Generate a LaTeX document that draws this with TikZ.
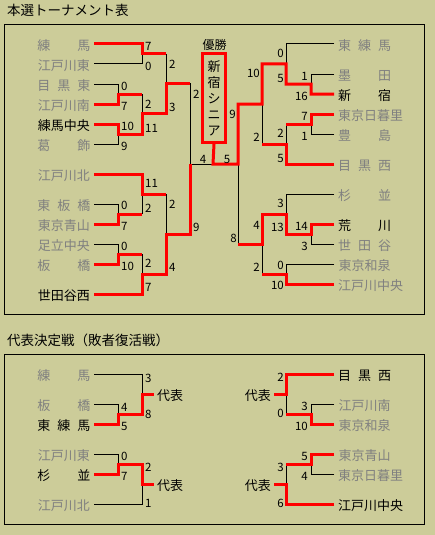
\documentclass[tikz,border=0pt]{standalone}
\usepackage{fontspec}
\setmainfont{Noto Sans CJK JP}
\definecolor{bg}{RGB}{204,204,153}
\definecolor{ng}{RGB}{128,128,128}
\newcommand\fsz[1]{\fontsize{#1}{#1}\selectfont}
\newcommand\nb[1]{\makebox[53pt]{#1}}
\begin{document}
\begin{tikzpicture}[x=1pt,y=-1pt,
  lose/.style={draw=black,line width=1pt},
  win/.style={draw=red,line width=3pt,line join=miter},
  nm/.style={inner sep=0pt,font=\fsz{13},text height=11pt,text depth=2pt},
  nmL/.style={nm,anchor=east},
  nmR/.style={nm,anchor=west},
  gr/.style={text=ng},
  sc/.style={inner sep=0pt,font=\fsz{11.5},text height=8.4pt,text depth=0pt},
  scL/.style={sc,anchor=west},
  scR/.style={sc,anchor=east},
  dai/.style={inner ysep=0pt,inner xsep=3pt,font=\fsz{13},text height=11pt,text depth=2pt},
  ttl/.style={anchor=west,inner sep=0pt,font=\fsz{13.5},text height=11.5pt,text depth=2pt}]
\fill[bg] (0,0) rectangle (435,535);
\useasboundingbox (0,0) rectangle (435,535);

% titles and frames
\node[ttl] (title1) at (7,10.5) {本選トーナメント表};
\node[ttl] (title2) at (7,340.5) {代表決定戦（敗者復活戦）};
\draw[line width=1pt] (4.5,24.5) rectangle (424,314.5);
\draw[line width=1pt] (4.5,354.5) rectangle (424,524);

% ---------- main bracket: left names ----------
\node[nmL,gr] (n1) at (90.5,46) {\nb{練\hfill 馬}};
\node[nmL,gr] (n2) at (90.5,66) {\nb{江戸川東}};
\node[nmL,gr] (n3) at (90.5,86) {\nb{目\hfill 黒\hfill 東}};
\node[nmL,gr] (n4) at (90.5,106) {\nb{江戸川南}};
\node[nmL] (n5) at (90.5,126) {\nb{練馬中央}};
\node[nmL,gr] (n6) at (90.5,146) {\nb{葛\hfill 飾}};
\node[nmL,gr] (n7) at (90.5,176) {\nb{江戸川北}};
\node[nmL,gr] (n8) at (90.5,206) {\nb{東\hfill 板\hfill 橋}};
\node[nmL,gr] (n9) at (90.5,226) {\nb{東京青山}};
\node[nmL,gr] (n10) at (90.5,246) {\nb{足立中央}};
\node[nmL,gr] (n11) at (90.5,266) {\nb{板\hfill 橋}};
\node[nmL] (n12) at (90.5,296) {\nb{世田谷西}};

% right names
\node[nmR,gr] (m1) at (338,46) {\nb{東\hfill 練\hfill 馬}};
\node[nmR,gr] (m2) at (338,76) {\nb{墨\hfill 田}};
\node[nmR] (m3) at (338,96) {\nb{新\hfill 宿}};
\node[nmR,gr] (m4) at (338,116) {東京日暮里};
\node[nmR,gr] (m5) at (338,136) {\nb{豊\hfill 島}};
\node[nmR,gr] (m6) at (338,166) {\nb{目\hfill 黒\hfill 西}};
\node[nmR,gr] (m7) at (338,196) {\nb{杉\hfill 並}};
\node[nmR] (m8) at (338,226) {\nb{荒\hfill 川}};
\node[nmR,gr] (m9) at (338,246) {\nb{世\hfill 田\hfill 谷}};
\node[nmR,gr] (m10) at (338,266) {\nb{東京和泉}};
\node[nmR,gr] (m11) at (338,286) {江戸川中央};

% champion
\node[inner sep=0pt,font=\fsz{12}] (yusho) at (214.5,45) {優勝};
\node[draw=red,line width=3pt,minimum width=23pt,minimum height=88.5pt,inner sep=0pt,
      align=center,font=\fontsize{13}{15.8}\selectfont] (champ) at (214,98.25) {新\\宿\\シ\\ニ\\ア};

% line coordinates, left
\foreach \i/\y in {1/44,2/64,3/84,4/104,5/124,6/144,7/174,8/204,9/224,10/244,11/264,12/294}
  \coordinate (p\i) at (94,\y);
\coordinate (mA) at (142,54);  \coordinate (eA) at (166,54);
\coordinate (mB) at (118,94);  \coordinate (eB) at (142,94);
\coordinate (mC) at (118,134); \coordinate (eC) at (142,134);
\coordinate (mD) at (142,113); \coordinate (eD) at (166,113);
\coordinate (mE) at (166,83);  \coordinate (eE) at (190,83);
\coordinate (mG) at (118,214); \coordinate (eG) at (142,214);
\coordinate (mH) at (142,194); \coordinate (eH) at (166,194);
\coordinate (mI) at (118,254); \coordinate (eI) at (142,254);
\coordinate (mJ) at (142,274); \coordinate (eJ) at (166,274);
\coordinate (mK) at (166,234); \coordinate (eK) at (190,234);
\coordinate (mF) at (190,164); \coordinate (fin) at (213,164);
% right
\foreach \i/\y in {1/44,2/74,3/94,4/114,5/134,6/164,7/194,8/224,9/244,10/264,11/284}
  \coordinate (r\i) at (334,\y);
\coordinate (mRA) at (311,84);  \coordinate (eRA) at (286,84);
\coordinate (mRB) at (286,64);  \coordinate (eRB) at (262,64);
\coordinate (mRC) at (311,124); \coordinate (eRC) at (286,124);
\coordinate (mRD) at (286,144); \coordinate (eRD) at (262,144);
\coordinate (mRE) at (262,104); \coordinate (eRE) at (238,104);
\coordinate (mRF) at (311,234); \coordinate (eRF) at (286,234);
\coordinate (mRG) at (286,214); \coordinate (eRG) at (262,214);
\coordinate (mRH) at (286,274); \coordinate (eRH) at (262,274);
\coordinate (mRK) at (262,244); \coordinate (eRK) at (238,244);
\coordinate (mRS) at (238,164);

% losing lines
\draw[lose] (p2) -| (mA);
\draw[lose] (p3) -| (mB);
\draw[lose] (p6) -| (mC);
\draw[lose] (eB) -- (mD);
\draw[lose] (eA) -- (mE);
\draw[lose] (eE) -- (mF) -- (fin);
\draw[lose] (p8) -| (mG);
\draw[lose] (eG) -- (mH);
\draw[lose] (p10) -| (mI);
\draw[lose] (eI) -- (mJ);
\draw[lose] (eH) -- (mK);
\draw[lose] (r2) -| (mRA);
\draw[lose] (r1) -| (mRB);
\draw[lose] (r5) -| (mRC);
\draw[lose] (eRC) -- (mRD);
\draw[lose] (eRD) -- (mRE);
\draw[lose] (r9) -| (mRF);
\draw[lose] (r7) -| (mRG);
\draw[lose] (r10) -| (mRH);
\draw[lose] (eRH) -- (mRK);
\draw[lose] (eRK) -- (mRS);

% winning lines
\draw[win] (p1) -| (mA) -- (eA);
\draw[win] (p4) -| (mB) -- (eB);
\draw[win] (p5) -| (mC) -- (eC) -- (mD) -- (eD) -- (mE) -- (eE);
\draw[win] (p9) -| (mG) -- (eG);
\draw[win] (p11) -| (mI) -- (eI);
\draw[win] (p7) -| (mH) -- (eH);
\draw[win] (p12) -| (mJ) -- (eJ) -- (mK) -- (eK) -- (mF);
\draw[win] (r3) -| (mRA) -- (eRA) -- (mRB) -- (eRB) -- (mRE) -- (eRE) -- (mRS) -- (fin) -- (champ.south);
\draw[win] (r4) -| (mRC) -- (eRC);
\draw[win] (r6) -| (mRD) -- (eRD);
\draw[win] (r8) -| (mRF) -- (eRF) -- (mRG) -- (eRG) -- (mRK) -- (eRK);
\draw[win] (r11) -| (mRH) -- (eRH);

% scores left
\node[scL] (l1) at (145,46) {7};
\node[scL] (l2) at (145,66) {0};
\node[scL] (l3) at (121,86) {0};
\node[scL] (l4) at (121,106) {7};
\node[scL] (l5) at (121,126) {10};
\node[scL] (l6) at (121,146) {9};
\node[scL] (l7) at (145,104) {2};
\node[scL] (l8) at (145,128) {11};
\node[scL] (l9) at (169,64) {2};
\node[scL] (l10) at (169,107) {3};
\node[scL] (l11) at (193,94) {2};
\node[scL] (l12) at (145,183) {11};
\node[scL] (l13) at (145,208) {2};
\node[scL] (l14) at (121,205) {0};
\node[scL] (l15) at (121,226) {7};
\node[scL] (l16) at (169,204) {2};
\node[scL] (l17) at (121,246) {0};
\node[scL] (l18) at (121,266) {10};
\node[scL] (l19) at (145,263) {2};
\node[scL] (l20) at (169,267) {4};
\node[scL] (l21) at (145,287) {7};
\node[scL] (l22) at (193,227) {9};
% final
\node[sc] (f1) at (203,159) {4};
\node[sc] (f2) at (227,159) {5};
% scores right
\node[scR] (k1) at (260,73) {10};
\node[scR] (k2) at (260,137) {2};
\node[scR] (k3) at (236,114) {9};
\node[scR] (k4) at (284,53) {0};
\node[scR] (k5) at (284,78) {5};
\node[scR] (k6) at (308,76) {1};
\node[scR] (k7) at (308,96) {16};
\node[scR] (k8) at (308,116) {7};
\node[scR] (k9) at (308,136) {1};
\node[scR] (k10) at (284,133) {2};
\node[scR] (k11) at (284,158) {5};
\node[scR] (k12) at (237,238) {8};
\node[scR] (k13) at (260,225) {4};
\node[scR] (k14) at (260,267) {2};
\node[scR] (k15) at (284,203) {3};
\node[scR] (k16) at (284,227) {13};
\node[scR] (k17) at (308,226) {14};
\node[scR] (k18) at (308,246) {3};
\node[scR] (k19) at (284,265) {0};
\node[scR] (k20) at (284,285) {10};

% ---------- repechage ----------
\node[nmL,gr] (a1) at (90.5,376) {\nb{練\hfill 馬}};
\node[nmL,gr] (a2) at (90.5,406) {\nb{板\hfill 橋}};
\node[nmL] (a3) at (90.5,426) {\nb{東\hfill 練\hfill 馬}};
\node[nmL,gr] (a4) at (90.5,456) {\nb{江戸川東}};
\node[nmL] (a5) at (90.5,476) {\nb{杉\hfill 並}};
\node[nmL,gr] (a6) at (90.5,506) {\nb{江戸川北}};
\node[nmR] (b1) at (338,376) {\nb{目\hfill 黒\hfill 西}};
\node[nmR,gr] (b2) at (338,406) {\nb{江戸川南}};
\node[nmR,gr] (b3) at (338,426) {\nb{東京和泉}};
\node[nmR,gr] (b4) at (338,456) {\nb{東京青山}};
\node[nmR,gr] (b5) at (338,476) {東京日暮里};
\node[nmR] (b6) at (338,506) {江戸川中央};

\node[dai,anchor=west] (dai1) at (154,396) {代表};
\node[dai,anchor=west] (dai2) at (154,486) {代表};
\node[dai,anchor=east] (dai3) at (274,396) {代表};
\node[dai,anchor=east] (dai4) at (274,486) {代表};

\foreach \i/\y in {1/374,2/404,3/424,4/454,5/474,6/504}{
  \coordinate (s\i) at (94,\y);
  \coordinate (t\i) at (334,\y);}
\coordinate (M1) at (118,414); \coordinate (E1) at (142,414); \coordinate (M2) at (142,394);
\coordinate (M3) at (118,464); \coordinate (E3) at (142,464); \coordinate (M4) at (142,484);
\coordinate (N1) at (311,414); \coordinate (F1) at (286,414); \coordinate (N2) at (286,394);
\coordinate (N3) at (311,464); \coordinate (F3) at (286,464); \coordinate (N4) at (286,484);

\draw[lose] (s2) -| (M1);
\draw[lose] (s1) -| (M2);
\draw[lose] (s4) -| (M3);
\draw[lose] (s6) -| (M4);
\draw[lose] (t2) -| (N1);
\draw[lose] (F1) -- (N2);
\draw[lose] (t5) -| (N3);
\draw[lose] (F3) -- (N4);

\draw[win] (s3) -| (M1) -- (E1) -- (M2) -- (M2 -| dai1.west);
\draw[win] (s5) -| (M3) -- (E3) -- (M4) -- (M4 -| dai2.west);
\draw[win] (t3) -| (N1) -- (F1);
\draw[win] (t1) -| (N2) -- (N2 -| dai3.east);
\draw[win] (t4) -| (N3) -- (F3);
\draw[win] (t6) -| (N4) -- (N4 -| dai4.east);

\node[scL] (g1) at (145,378) {3};
\node[scL] (g2) at (121,407) {4};
\node[scL] (g3) at (121,426) {5};
\node[scL] (g4) at (145,414) {8};
\node[scL] (g5) at (121,456) {0};
\node[scL] (g6) at (121,476) {7};
\node[scL] (g7) at (145,467) {2};
\node[scL] (g8) at (145,503) {1};
\node[scR] (h1) at (284,377) {2};
\node[scR] (h2) at (284,413) {0};
\node[scR] (h3) at (308,406) {3};
\node[scR] (h4) at (308,426) {10};
\node[scR] (h5) at (308,456) {5};
\node[scR] (h6) at (308,476) {4};
\node[scR] (h7) at (284,467) {3};
\node[scR] (h8) at (284,503) {6};
\end{tikzpicture}
\end{document}
